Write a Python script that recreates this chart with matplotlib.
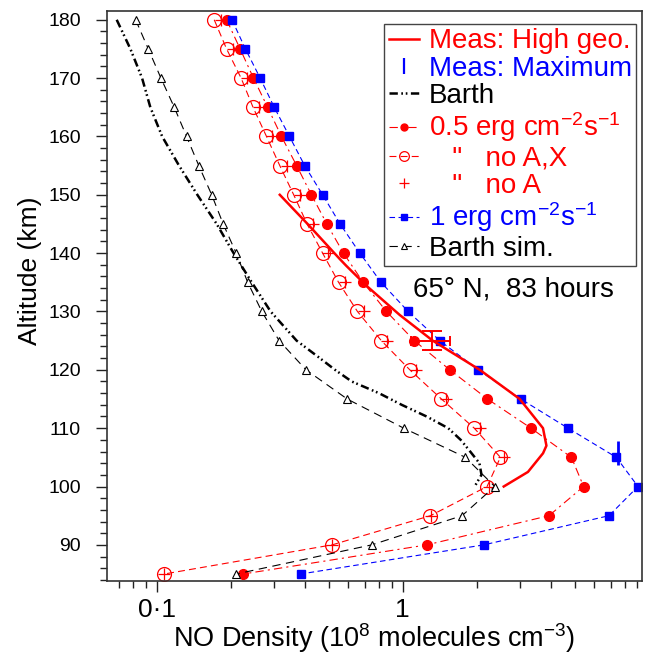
import numpy as np
import matplotlib
matplotlib.use("Agg")
import matplotlib.pyplot as plt
from matplotlib.ticker import FixedLocator, NullFormatter

plt.rcParams['font.family'] = ['Liberation Sans', 'DejaVu Sans']
plt.rcParams['mathtext.fontset'] = 'custom'
plt.rcParams['mathtext.rm'] = 'Liberation Sans'
plt.rcParams['mathtext.it'] = 'Liberation Sans:italic'
plt.rcParams['mathtext.default'] = 'regular'
plt.rcParams['lines.scale_dashes'] = False

# === model grid (km) ===
alt = [180, 175, 170, 165, 160, 155, 150, 145, 140, 135,
       130, 125, 120, 115, 110, 105, 100, 95, 90, 85]

# NO density, 10^8 molecules cm^-3
erg05 = [0.192, 0.218, 0.247, 0.282, 0.321, 0.370, 0.425, 0.491, 0.574, 0.690,
         0.858, 1.114, 1.553, 2.21, 3.323, 4.852, 5.44, 3.933, 1.255, 0.224]
no_ax = [0.171, 0.192, 0.220, 0.246, 0.279, 0.316, 0.360, 0.408, 0.472, 0.548,
         0.654, 0.818, 1.068, 1.436, 1.953, 2.495, 2.202, 1.296, 0.516, 0.107]
no_a = [0.183, 0.203, 0.232, 0.261, 0.293, 0.337, 0.381, 0.432, 0.498, 0.581,
        0.696, 0.861, 1.137, 1.498, 2.056, 2.574, 2.237, 1.300, 0.516, 0.107]
erg1 = [0.202, 0.229, 0.263, 0.300, 0.346, 0.399, 0.472, 0.556, 0.669, 0.816,
        1.051, 1.414, 2.027, 3.018, 4.70, 7.39, 9.05, 6.90, 2.14, 0.384]
barth_sim = [0.0819, 0.0922, 0.1038, 0.1176, 0.132, 0.148, 0.167, 0.186, 0.210, 0.234,
             0.267, 0.314, 0.404, 0.594, 1.009, 1.798, 2.366, 1.742, 0.748, 0.210]

# Barth climatology
barth_alt = [180, 175, 170, 165, 160, 155, 150, 145, 140, 135, 130, 125,
             122, 120, 118, 116, 114, 112, 110, 108, 106, 104, 102, 100]
barth = [0.0686, 0.078, 0.087, 0.094, 0.105, 0.123, 0.146, 0.175, 0.205, 0.243, 0.29, 0.37,
         0.46, 0.53, 0.62, 0.80, 0.99, 1.25, 1.53, 1.72, 1.88, 2.05, 2.09, 1.96]

# measured profile, high geomagnetic activity
geo_alt = [150, 145, 139, 137.8, 134.4, 129.4, 125, 120, 115, 110, 107, 105.7, 102.5, 100]
geo = [0.316, 0.41, 0.554, 0.59, 0.712, 0.972, 1.324, 2.056, 2.99, 3.718, 3.84, 3.72, 3.23, 2.574]

# measurement error at 125 km and measured maximum
err_x, err_xerr = 1.32, 0.24
err_alt, err_yerr = 125, 1.6
max_x, max_alt = 7.53, 105.7

fig = plt.figure(figsize=(6.47, 6.56), dpi=100)
ax = fig.add_axes([0.1658, 0.1143, 0.8265, 0.8689])

red = '#ff0000'
blue = '#0000ff'

ax.plot(geo, geo_alt, '-', color=red, lw=1.8, label='Meas: High geo.', zorder=5)
ax.plot([max_x], [max_alt], linestyle='none', marker='|', color=blue,
        ms=17, mew=2, label='Meas: Maximum', zorder=6)
ax.plot(barth, barth_alt, color='k', lw=1.8, dashes=(6, 2.5, 1.2, 2, 1.2, 2.5),
        label='Barth')
ax.plot(erg05, alt, color=red, lw=0.8, dashes=(6, 3, 1.5, 3), marker='o', ms=7,
        mfc=red, mec=red, label='0.5 erg cm$^{-2}$s$^{-1}$')
ax.plot(no_ax, alt, color=red, lw=0.8, dashes=(5, 3), marker='o', ms=10,
        mfc='none', mec=red, mew=0.9, label='   "   no A,X')
ax.plot(no_a, alt, linestyle='none', marker='+', ms=9, mew=0.9, color=red,
        label='   "   no A')
ax.plot(erg1, alt, color=blue, lw=0.8, dashes=(4, 2.5), marker='s', ms=5.5,
        mfc=blue, mec=blue, label='1 erg cm$^{-2}$s$^{-1}$')
ax.plot(barth_sim, alt, color='k', lw=0.8, dashes=(6, 4), marker='^', ms=6,
        mfc='white', mec='k', mew=0.8, label='Barth sim.')

# error bars at 125 km: wide caps on the altitude bar, short ones on the density bar
ax.errorbar(err_x, err_alt, yerr=err_yerr, color=red, lw=1.4, capsize=7, capthick=1.4,
            zorder=7)
ax.errorbar(err_x, err_alt, xerr=err_xerr, color=red, lw=1.4, capsize=3.5, capthick=1.4,
            zorder=7)

ax.set_xscale('log')
ax.set_xlim(0.0628, 9.4)
ax.set_ylim(83.8, 181.5)

ax.xaxis.set_major_locator(FixedLocator([0.1, 1]))
ax.set_xticklabels(['0\u00b71', '1'])
ax.xaxis.set_minor_locator(FixedLocator(
    [0.07, 0.08, 0.09] + [m * 0.1 for m in range(2, 10)] + list(range(2, 10))))
ax.xaxis.set_minor_formatter(NullFormatter())
ax.set_yticks(np.arange(90, 181, 10))
ax.yaxis.set_minor_locator(FixedLocator(np.arange(84, 181, 2)))

ax.tick_params(axis='both', which='both', direction='out', top=False, right=False,
               width=1.0, color='#222222')
ax.tick_params(axis='both', which='major', length=8)
ax.tick_params(axis='both', which='minor', length=5)
ax.tick_params(axis='x', which='major', labelsize=19, pad=4)
ax.tick_params(axis='y', which='major', labelsize=14, pad=11)
for s in ax.spines.values():
    s.set_linewidth(1.2)
    s.set_color('#333333')

ax.set_xlabel('NO Density (10$^8$ molecules cm$^{-3}$)', fontsize=19.5, labelpad=0)
ax.set_ylabel('Altitude (km)', fontsize=19)
ax.yaxis.set_label_coords(-0.122, 0.545)

ax.text(2.83, 133.8, '65\u00b0 N,  83 hours', fontsize=20, ha='center', va='center')

leg = ax.legend(loc='upper right', bbox_to_anchor=(0.989, 0.977), fontsize=20,
                frameon=True, fancybox=False, edgecolor='#444444', framealpha=1,
                handlelength=1.1, handletextpad=0.35, labelspacing=0.05,
                borderpad=0.15, borderaxespad=0.0, numpoints=1)
leg.get_frame().set_linewidth(1.0)
text_colors = [red, blue, 'k', red, red, red, blue, 'k']
for t, c in zip(leg.get_texts(), text_colors):
    t.set_color(c)
hs = leg.legend_handles
hs[1].set_markersize(11)
hs[1].set_markeredgewidth(1.6)
hs[3].set_markersize(5)
hs[4].set_markersize(7)
hs[5].set_markersize(7)
hs[6].set_markersize(4)
hs[7].set_markersize(4.5)

fig.savefig('out.png', dpi=100)
